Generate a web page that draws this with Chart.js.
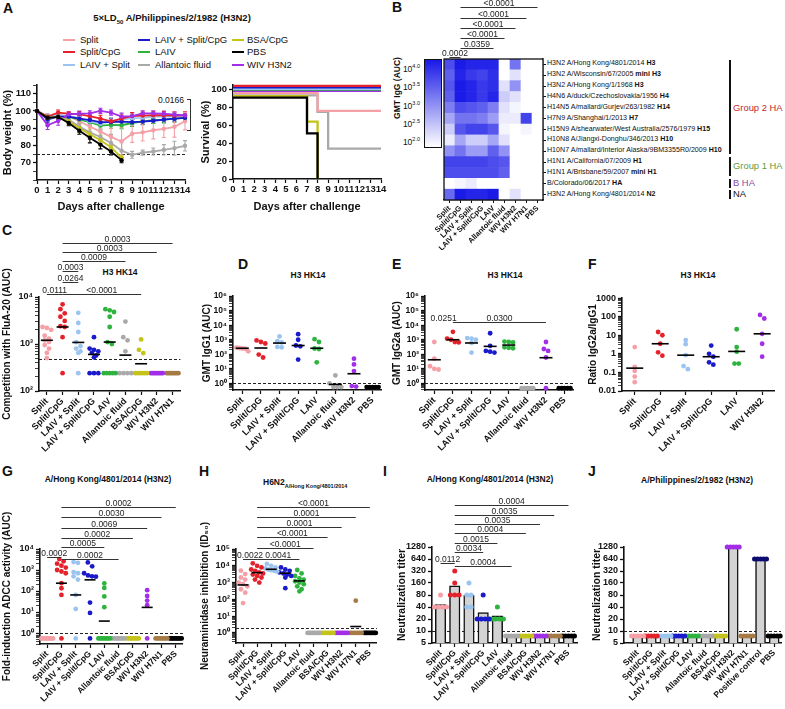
<!DOCTYPE html>
<html lang="en">
<head>
<meta charset="utf-8">
<title>Figure</title>
<script src="https://cdn.jsdelivr.net/npm/chart.js@4.4.1/dist/chart.umd.min.js"></script>
<style>
    body { margin: 0; background: #fff; }
    #fig { position: relative; width: 785px; height: 709px; overflow: hidden; background: #fff;
           font-family: "Liberation Sans", Arial, Helvetica, sans-serif; color: #111; }
    #fig canvas { position: absolute; }
    .t { position: absolute; white-space: nowrap; line-height: 1; }
    .letter { font-size: 14px; font-weight: bold; }
    .title { font-size: 8.5px; font-weight: bold; transform: translateX(-50%); }
    .legend { font-size: 9.5px; }
    .swatch { position: absolute; width: 12px; height: 2.5px; }
    .row { font-size: 7.1px; }
    .cb { font-size: 8.5px; text-align: right; width: 24px; }
    .cb sup { font-size: 5.5px; position: relative; top: -1px; vertical-align: top; }
    .group { position: absolute; left: 729px; width: 2px; background: #111; }
    .glabel { font-size: 9.4px; }
</style>
</head>
<body>
<div id="fig">
    <div class="t letter" style="left:3px;top:1px">A</div>
    <div class="t letter" style="left:392px;top:0px">B</div>
    <div class="t letter" style="left:2px;top:223px">C</div>
    <div class="t letter" style="left:238px;top:257px">D</div>
    <div class="t letter" style="left:392px;top:257px">E</div>
    <div class="t letter" style="left:588px;top:257px">F</div>
    <div class="t letter" style="left:2px;top:464px">G</div>
    <div class="t letter" style="left:199px;top:464px">H</div>
    <div class="t letter" style="left:383px;top:464px">I</div>
    <div class="t letter" style="left:588px;top:464px">J</div>

    <div class="t title" style="left:172px;top:13px;font-size:9.5px">5×LD<span style="font-size:6px;position:relative;top:3px">50</span> A/Philippines/2/1982 (H3N2)</div>
    <div class="t title" style="left:120px;top:268px">H3 HK14</div>
    <div class="t title" style="left:308px;top:271px">H3 HK14</div>
    <div class="t title" style="left:505px;top:271px">H3 HK14</div>
    <div class="t title" style="left:698px;top:271px">H3 HK14</div>
    <div class="t title" style="left:108px;top:475px">A/Hong Kong/4801/2014 (H3N2)</div>
    <div class="t" style="left:263px;top:478px;font-size:8.5px;font-weight:bold">H6N2<span style="font-size:5.5px;position:relative;top:3px">A/Hong Kong/4801/2014</span></div>
    <div class="t title" style="left:490px;top:475px">A/Hong Kong/4801/2014 (H3N2)</div>
    <div class="t title" style="left:697px;top:476px">A/Philippines/2/1982 (H3N2)</div>

    <div class="t" style="left:158px;top:96px;font-size:8.5px">0.0166</div>
    <div style="position:absolute;left:187px;top:99px;width:3px;height:30px;border-top:1px solid #333;border-right:1px solid #333;border-bottom:1px solid #333"></div>

    <div class="t" style="left:397px;top:88px;font-size:8.5px;font-weight:bold;transform:translate(-50%,-50%) rotate(-90deg)">GMT IgG (AUC)</div>
    <div id="colorbar" style="position:absolute;left:424px;top:59px;width:16px;height:87px;border:1px solid #111"></div>
    <div class="t cb" style="left:396px;top:65px">10<sup>4.0</sup></div>
    <div class="t cb" style="left:396px;top:83px">10<sup>3.5</sup></div>
    <div class="t cb" style="left:396px;top:102px">10<sup>3.0</sup></div>
    <div class="t cb" style="left:396px;top:120px">10<sup>2.5</sup></div>
    <div class="t cb" style="left:396px;top:138px">10<sup>2.0</sup></div>

    <div class="group" style="top:60px;height:94px"></div>
    <div class="group" style="top:157px;height:19px"></div>
    <div class="group" style="top:179px;height:9px"></div>
    <div class="group" style="top:190px;height:9px"></div>
    <div class="t glabel" style="left:733px;top:103px;color:#c0282d">Group 2 HA</div>
    <div class="t glabel" style="left:733px;top:161px;color:#5f9a3c">Group 1 HA</div>
    <div class="t glabel" style="left:733px;top:178px;color:#8a4ba6">B HA</div>
    <div class="t glabel" style="left:733px;top:189px;color:#111">NA</div>
</div>
<script>
// ---------- panel A: body weight (% of day 0), mean and SD ----------
const days = [0, 1, 2, 3, 4, 5, 6, 7, 8, 9, 10, 11, 12, 13, 14];
const weightSplit = [100, 96, 98, 97, 94, 91, 88, 85, 82.3, 86.8, 87.6, 88.8, 89.6, 90.8, 94];
const weightSplitCpG = [100, 96.7, 99, 98.4, 98, 97, 95.5, 94, 95.6, 97, 97.3, 97.5, 97.5, 97.3, 97.5];
const weightLaivSplit = [100, 96.7, 97.5, 97, 96, 94, 92.6, 94, 95, 95.8, 96, 96.7, 96.7, 96.7, 97];
const weightLaivSplitCpG = [100, 95, 96.7, 96.7, 95.5, 94.7, 93.5, 93.5, 93.8, 93.5, 93.8, 94.3, 95, 95.5, 96];
const weightLaiv = [100, 96, 97, 96.7, 95, 93.5, 91.5, 91.9, 91.7, 93, 94, 94.7, 95, 95.5, 96];
const weightAllantoic = [100, 95.4, 97.5, 95, 91, 87.6, 84.9, 81.4, 77, 74.6, 75.9, 76.5, 77.5, 78.4, 79.8];
const weightBsaCpG = [100, 96, 96.5, 94, 90, 86.5, 83, 79, 73];
const weightPbs = [100, 96, 96.5, 93, 88.5, 84.5, 80.5, 76.5, 71.5];
const weightWivH3N2 = [100, 91.7, 94.2, 98, 98.4, 98.6, 100, 99, 96.7, 97, 98.6, 98.6, 98.4, 97.9, 97.5];

const sdSplit = [0, 1.5, 1.5, 1.5, 2, 3, 4, 5, 8, 5, 5, 5, 5, 6, 5];
const sdSplitCpG = [0, 1.5, 1.5, 1, 1.5, 1.5, 2, 2, 2, 2, 2, 2, 2, 2, 2];
const sdLaivSplit = [0, 1.5, 1.5, 1.5, 1.5, 2, 2, 2, 2, 2, 2, 2, 2, 2, 2];
const sdLaivSplitCpG = [0, 1.5, 1.5, 1.5, 1.5, 2, 2, 2, 2, 1.5, 1.5, 1.5, 1.5, 1.5, 1.5];
const sdLaiv = [0, 1.5, 1.5, 1.5, 2, 2, 2, 2, 2, 2, 2, 2, 2, 2, 2];
const sdAllantoic = [0, 1.5, 1.5, 2, 3, 4, 4, 5, 6, 2, 1.5, 2, 3, 4, 3];
const sdBsaCpG = [0, 1.5, 1.5, 2, 2.5, 3, 3, 2.5, 1.5];
const sdPbs = [0, 1, 1, 1.5, 2, 3, 2.5, 2, 1.5];
const sdWivH3N2 = [0, 2.5, 2.5, 1.5, 1.5, 1.5, 1.5, 1.5, 2, 2, 1.5, 1.5, 1.5, 1.5, 1.5];

const weightTickValues = [60, 65, 70, 75, 80, 85, 90, 95, 100, 105, 110, 115];
const weightTickLabels = [70, 80, 90, 100, 110];

// ---------- panel A: survival (%), curves as drawn (offset in the figure) ----------
const survSplitCpG = [104, 104, 104, 104, 104, 104, 104, 104, 104, 104, 104, 104, 104, 104, 104];
const survLaivSplitCpG = [102.3, 102.3, 102.3, 102.3, 102.3, 102.3, 102.3, 102.3, 102.3, 102.3, 102.3, 102.3, 102.3, 102.3, 102.3];
const survLaivSplit = [100.8, 100.8, 100.8, 100.8, 100.8, 100.8, 100.8, 100.8, 100.8, 100.8, 100.8, 100.8, 100.8, 100.8, 100.8];
const survLaiv = [100, 100, 100, 100, 100, 100, 100, 100, 100, 100, 100, 100, 100, 100, 100];
const survWivH3N2 = [98.5, 98.5, 98.5, 98.5, 98.5, 98.5, 98.5, 98.5, 98.5, 98.5, 98.5, 98.5, 98.5, 98.5, 98.5];
const survSplit = [96, 96, 96, 96, 96, 96, 96, 96, 76, 76, 76, 76, 76, 76, 76];
const survAllantoic = [93.5, 93.5, 93.5, 93.5, 93.5, 93.5, 93.5, 93.5, 75, 34, 34, 34, 34, 34, 34];
const survPbs = [91, 91, 91, 91, 91, 91, 91, 51, 0];
const survBsaCpG = [92.5, 92.5, 92.5, 92.5, 92.5, 92.5, 92.5, 64, 0];
const survivalTickLabels = [0, 20, 40, 60, 80, 100];

// ---------- panel B: heatmap, log10 GMT IgG (AUC) ----------
const hmColumns = ["Split", "Split/CpG", "LAIV + Split", "LAIV + Split/CpG", "LAIV", "Allantoic fluid", "WIV H3N2", "WIV H7N1", "PBS"];
const hmStrains = ["H3N2 A/Hong Kong/4801/2014", "H3N2 A/Wisconsin/67/2005", "H3N2 A/Hong Kong/1/1968",
    "H4N6 A/duck/Czechoslovakia/1956", "H14N5 A/mallard/Gurjev/263/1982", "H7N9 A/Shanghai/1/2013",
    "H15N9 A/shearwater/West Australia/2576/1979", "H10N8 A/Jiangxi-Donghu/346/2013",
    "H10N7 A/mallard/Interior Alaska/9BM3355R0/2009", "H1N1 A/California/07/2009", "H1N1 A/Brisbane/59/2007",
    "B/Colorado/06/2017", "H3N2 A/Hong Kong/4801/2014"];
const hmSubtypes = ["H3", "mini H3", "H3", "H4", "H14", "H7", "H15", "H10", "H10", "H1", "mini H1", "HA", "N2"];
const hmH3HK2014 = [3.8, 4.3, 4.2, 4.2, 4.2, 2.0, 3.4, 2.0, 2.0];
const hmH3Wis2005 = [3.6, 4.2, 4.0, 3.9, 4.1, 2.0, 2.3, 2.0, 2.0];
const hmH3HK1968 = [3.7, 4.3, 4.2, 4.0, 4.1, 2.3, 3.1, 2.0, 2.0];
const hmH4 = [3.6, 4.3, 4.2, 4.0, 4.2, 2.5, 2.3, 2.0, 2.0];
const hmH14 = [3.3, 3.8, 3.7, 3.6, 3.3, 2.3, 2.1, 2.0, 2.0];
const hmH7 = [2.9, 3.4, 3.4, 3.3, 3.0, 2.2, 2.2, 3.9, 2.0];
const hmH15 = [2.5, 3.7, 3.9, 3.9, 3.7, 2.1, 2.0, 2.1, 2.0];
const hmH10N8 = [2.2, 2.9, 2.5, 2.5, 2.9, 2.3, 2.0, 2.0, 2.0];
const hmH10N7 = [3.1, 3.4, 3.0, 3.0, 3.6, 3.1, 2.0, 2.0, 2.0];
const hmH1Cal = [3.9, 3.9, 3.9, 3.9, 3.8, 3.7, 2.0, 2.0, 2.0];
const hmH1Bris = [3.8, 3.8, 3.8, 3.8, 3.8, 3.6, 2.0, 2.0, 2.0];
const hmBCol = [2.0, 2.1, 2.2, 2.0, 2.0, 2.0, 2.0, 2.0, 2.0];
const hmN2 = [3.5, 4.3, 4.2, 4.2, 4.3, 2.0, 2.3, 2.0, 2.0];
const hmRows = [hmH3HK2014, hmH3Wis2005, hmH3HK1968, hmH4, hmH14, hmH7, hmH15, hmH10N8, hmH10N7, hmH1Cal, hmH1Bris, hmBCol, hmN2];

// ---------- panel C: competition with FluA-20 (AUC) ----------
const compLabels = ["Split", "Split/CpG", "LAIV + Split", "LAIV + Split/CpG", "LAIV", "Allantoic fluid", "BSA/CpG", "WIV H3N2", "WIV H7N1"];
const compSplit = [2300, 2200, 2000, 1500, 1300, 1200, 1100, 950, 800, 650, 500];
const compSplitCpG = [7000, 5500, 4500, 3800, 3100, 2400, 2300, 1400, 240];
const compLaivSplit = [4600, 2800, 1800, 1100, 900, 800, 700, 650, 240];
const compLaivSplitCpG = [1400, 800, 750, 700, 650, 570, 520, 240, 240, 240];
const compLaiv = [5500, 5200, 4800, 3800, 2300, 1100, 1000, 240, 240, 240, 240, 240];
const compAllantoic = [3000, 1400, 1200, 700, 240, 240, 240, 240];
const compBsaCpG = [1250, 750, 640, 240, 240, 240, 240, 240, 240];
const compWivH3N2 = [240, 240, 240, 240, 240, 240, 240, 240];
const compWivH7N1 = [240, 240, 240, 240, 240, 240, 240, 240];
const compMedians = [1200, 2300, 1080, 600, 1100, 580, 380, null, null];

// ---------- panels D and E: GMT IgG1 / IgG2a (AUC) ----------
const igLabels = ["Split", "Split/CpG", "LAIV + Split", "LAIV + Split/CpG", "LAIV", "Allantoic fluid", "WIV H3N2", "PBS"];
const igg1Split = [290, 270, 250, 240, 160];
const igg1SplitCpG = [900, 700, 550, 95, 60];
const igg1LaivSplit = [1700, 800, 650, 320, 300];
const igg1LaivSplitCpG = [2400, 1000, 400, 350, 43];
const igg1Laiv = [1100, 700, 250, 230, 28];
const igg1Allantoic = [3.5, 1.0, 0.56, 0.56, 0.56];
const igg1WivH3N2 = [50, 20, 7, 0.65, 0.6];
const igg1Pbs = [0.56, 0.56, 0.56, 0.56, 0.56];
const igg1Medians = [260, 270, 590, 400, 260, 0.85, 4.6, null];

const igg2aSplit = [700, 50, 15, 10, 9];
const igg2aSplitCpG = [3500, 1200, 1000, 700, 650];
const igg2aLaivSplit = [1300, 1200, 1000, 600, 130];
const igg2aLaivSplitCpG = [2800, 380, 170, 150, 130];
const igg2aLaiv = [750, 700, 650, 300, 280, 260];
const igg2aAllantoic = [0.46, 0.46, 0.46, 0.46, 0.46];
const igg2aWivH3N2 = [700, 230, 170, 60, 0.46];
const igg2aPbs = [0.46, 0.46, 0.46, 0.46, 0.46];
const igg2aMedians = [42, 1000, 600, 350, 430, null, 58, null];

// ---------- panel F: ratio IgG2a/IgG1 ----------
const ratioLabels = ["Split", "Split/CpG", "LAIV + Split", "LAIV + Split/CpG", "LAIV", "WIV H3N2"];
const ratioSplit = [2.3, 0.2, 0.12, 0.06, 0.03];
const ratioSplitCpG = [15, 10, 3.5, 1.2, 0.8];
const ratioLaivSplit = [5.5, 3.3, 0.85, 0.22, 0.15];
const ratioLaivSplitCpG = [2.8, 1.0, 0.7, 0.35, 0.26];
const ratioLaiv = [21, 2.3, 1.3, 0.3, 0.3];
const ratioWivH3N2 = [125, 80, 12, 3.5, 0.7];
const ratioMedians = [0.17, 3.5, 0.85, 0.7, 1.35, 12];

// ---------- panel G: ADCC fold induction (AUC) ----------
const adccLabels = ["Split", "Split/CpG", "LAIV + Split", "LAIV + Split/CpG", "LAIV", "Allantoic fluid", "BSA/CpG", "WIV H3N2", "WIV H7N1", "PBS"];
const adccSplit = [0.55, 0.55, 0.55, 0.55, 0.55, 0.55, 0.55, 0.55, 0.55, 0.55];
const adccSplitCpG = [3300, 2600, 2000, 1600, 1300, 1000, 850, 700, 235, 135, 65, 0.55];
const adccLaivSplit = [2400, 2200, 800, 700, 500, 350, 65, 14, 0.55];
const adccLaivSplitCpG = [2300, 1500, 700, 550, 500, 480, 28, 9, 0.55];
const adccLaiv = [230, 140, 55, 17, 0.55, 0.55, 0.55, 0.55, 0.55, 0.55, 0.55, 0.55];
const adccAllantoic = [0.55, 0.55, 0.55, 0.55, 0.55, 0.55, 0.55, 0.55];
const adccBsaCpG = [0.55, 0.55, 0.55, 0.55, 0.55, 0.55, 0.55, 0.55];
const adccWivH3N2 = [110, 58, 35, 21, 0.55];
const adccWivH7N1 = [0.55, 0.55, 0.55, 0.55, 0.55, 0.55, 0.55, 0.55];
const adccPbs = [0.55, 0.55, 0.55, 0.55, 0.55, 0.55, 0.55, 0.55, 0.55, 0.55];
const adccMedians = [null, 235, 65, 340, 3.7, null, null, 16.6, null, null];

// ---------- panel H: neuraminidase inhibition (ID50) ----------
const niSplit = [5100, 3200, 2000, 1500, 1000, 800, 600, 400, 250, 60];
const niSplitCpG = [14000, 10000, 8000, 6000, 5000, 4000, 3500, 3000, 2500, 2000, 1500, 1000];
const niLaivSplit = [13000, 10000, 8000, 7000, 6000, 5500, 5000, 4500];
const niLaivSplitCpG = [8000, 6000, 5000, 4000, 3500, 3000, 2500, 2000, 460];
const niLaiv = [5600, 3500, 2500, 1800, 1500, 1200, 1000, 800, 600, 400, 300];
const niAllantoic = [1, 1, 1, 1, 1, 1, 1, 1];
const niBsaCpG = [1, 1, 1, 1, 1, 1, 1, 1];
const niWivH3N2 = [1, 1, 1, 1, 1, 1, 1, 1];
const niWivH7N1 = [83, 1, 1, 1, 1, 1, 1, 1];
const niPbs = [1, 1, 1, 1, 1, 1, 1, 1, 1, 1];
const niMedians = [720, 3900, 6200, 3600, 1250, null, null, null, 2.4, null];

// ---------- panels I and J: neutralization titer ----------
const neutTicks = [5, 10, 20, 40, 80, 160, 320, 640, 1280];
const neutBelowLimit = [7.5, 7.5, 7.5, 7.5, 7.5];
const neutHkBars = [46, 135, 78, 29, 24, 8, 8, 8, 8, 8];
const neutHkSplit = [80, 40, 40, 40, 40];
const neutHkSplitCpG = [320, 160, 80, 80, 80];
const neutHkLaivSplit = [160, 80, 80, 40, 40];
const neutHkLaivSplitCpG = [80, 20, 20, 20, 20];
const neutHkLaiv = [40, 20, 20, 20, 20];

const neutPhLabels = ["Split", "Split/CpG", "LAIV + Split", "LAIV + Split/CpG", "LAIV", "Allantoic fluid", "BSA/CpG", "WIV H3N2", "WIV H7N1", "Positive control", "PBS"];
const neutPhBars = [8, 8, 8, 8, 8, 8, 8, 1280, 8, 640, 8];
const neutPhWivH3N2 = [1280, 1280, 1280, 1280, 1280];
const neutPhPositive = [640, 640, 640, 640, 640];

const groupColor = {
    "Split": "#f4a0a6",
    "Split/CpG": "#e4222b",
    "LAIV + Split": "#9bc4ef",
    "LAIV + Split/CpG": "#1a1acb",
    "LAIV": "#2db33e",
    "Allantoic fluid": "#a9a9a9",
    "BSA/CpG": "#c3c31a",
    "WIV H3N2": "#a22ee8",
    "WIV H7N1": "#a57a45",
    "Positive control": "#0b0b72",
    "PBS": "#000000"
};

const SUP = { "-": "⁻", "0": "⁰", "1": "¹", "2": "²", "3": "³", "4": "⁴", "5": "⁵", "6": "⁶" };

document.addEventListener("DOMContentLoaded", function() {
    Chart.defaults.font.family = '"Liberation Sans", Arial, Helvetica, sans-serif';
    Chart.defaults.color = "#111";
    buildLegend();
    buildHeatmapLabels();
    createWeightChart();
    createSurvivalChart();
    createHeatmap();
    createDotPanels();
    createBarPanels();
});

function makeCanvas(box) {
    const c = document.createElement("canvas");
    c.width = box.w;
    c.height = box.h;
    c.style.left = box.x + "px";
    c.style.top = box.y + "px";
    c.style.width = box.w + "px";
    c.style.height = box.h + "px";
    document.getElementById("fig").appendChild(c);
    return c;
}

function addText(html, x, y, cls, style) {
    const d = document.createElement("div");
    d.className = "t " + (cls || "");
    d.style.left = x + "px";
    d.style.top = y + "px";
    if (style) d.style.cssText += style;
    d.innerHTML = html;
    document.getElementById("fig").appendChild(d);
}

function baseOptions(box, area) {
    return {
        responsive: false,
        animation: false,
        devicePixelRatio: 1,
        events: [],
        layout: { padding: { left: 0, top: area.t - box.y, right: box.x + box.w - area.r, bottom: 0 } },
        plugins: { legend: { display: false }, tooltip: { enabled: false } }
    };
}

function bottomAxis(box, area, o) {
    return {
        type: "linear", min: o.min, max: o.max, offset: false,
        afterBuildTicks: s => { s.ticks = o.ticks.map(v => ({ value: v })); },
        afterFit: s => { s.height = box.y + box.h - area.b; s.paddingLeft = 0; s.paddingRight = 0; },
        ticks: {
            autoSkip: false, minRotation: o.rotate || 0, maxRotation: o.rotate || 0,
            callback: (v, i) => (o.labels ? o.labels[i] : String(v)),
            font: { size: o.size, weight: "bold" }, color: "#111", padding: 1
        },
        grid: { drawOnChartArea: false, offset: false, tickLength: 4, tickWidth: 1.2, color: "#111" },
        border: { color: "#111", width: 1.6 },
        title: { display: !!o.title, text: o.title || "", font: { size: 11, weight: "bold" }, color: "#111", padding: { top: 1, bottom: 1 } }
    };
}

function leftAxis(box, area, o) {
    return {
        type: o.type || "linear", min: o.min, max: o.max,
        afterBuildTicks: s => { s.ticks = o.ticks.map(t => ({ value: t.value, major: t.major })); },
        afterFit: s => { s.width = area.l - box.x; s.paddingTop = 0; s.paddingBottom = 0; },
        ticks: {
            autoSkip: false,
            callback: (v, i, ticks) => (ticks[i].major ? o.format(ticks[i].value) : ""),
            font: { size: o.size, weight: "bold" }, color: "#111", padding: 2
        },
        grid: { drawOnChartArea: false, tickLength: 4, color: "#111", tickWidth: c => (c.tick && c.tick.major ? 1.3 : 0.8) },
        border: { color: "#111", width: 1.6 },
        title: { display: true, text: o.title, font: { size: o.titleSize || 10, weight: "bold" }, color: "#111", padding: { top: 1, bottom: 1 } }
    };
}

// majors at powers of ten, minors at 2..9 x 10^n
function logTicks(lo, hi) {
    const out = [];
    for (let e = Math.floor(Math.log10(lo)); e <= Math.ceil(Math.log10(hi)); e++) {
        for (let k = 1; k <= 9; k++) {
            const v = k * Math.pow(10, e);
            if (v >= lo * 0.999 && v <= hi * 1.001) out.push({ value: v, major: k === 1 });
        }
    }
    return out;
}

function powLabel(v) {
    const e = Math.round(Math.log10(v));
    return "10" + String(e).split("").map(c => SUP[c]).join("");
}

function plainLabel(v) {
    return v >= 1 ? String(Math.round(v)) : String(Number(v.toPrecision(1)));
}

// spread equal-ish values sideways like a scatter dot plot
function spread(values, index, tol, gap, maxWidth) {
    const sorted = values.slice().sort((a, b) => b - a);
    const clusters = [];
    sorted.forEach(v => {
        const last = clusters[clusters.length - 1];
        if (last && Math.abs(Math.log10(last[0]) - Math.log10(v)) <= tol) last.push(v);
        else clusters.push([v]);
    });
    const points = [];
    clusters.forEach(c => {
        const width = Math.min(gap * (c.length - 1), maxWidth);
        c.forEach((v, j) => {
            const dx = c.length > 1 ? -width / 2 + width * j / (c.length - 1) : 0;
            points.push({ x: index + dx, y: v });
        });
    });
    return points;
}

function heatColor(v) {
    const t = Math.max(0, Math.min(1, (v - 2) / 2.32));
    const r = Math.round(255 - t * (255 - 25));
    const b = Math.round(255 - t * (255 - 232));
    return "rgb(" + r + "," + r + "," + b + ")";
}

function annotations(cfg) {
    return {
        id: "annotations",
        beforeDatasetsDraw(chart) {
            const ctx = chart.ctx, area = chart.chartArea, xs = chart.scales.x, ys = chart.scales.y;
            ctx.save();
            if (cfg.lod != null) {
                const y = Math.round(ys.getPixelForValue(cfg.lod)) + 0.5;
                ctx.setLineDash([3, 2]);
                ctx.lineWidth = 1;
                ctx.strokeStyle = "#222";
                ctx.beginPath();
                ctx.moveTo(area.left, y);
                ctx.lineTo(area.right, y);
                ctx.stroke();
                ctx.setLineDash([]);
            }
            chart.data.datasets.forEach(ds => {
                if (!ds.sd) return;
                ctx.strokeStyle = ds.borderColor;
                ctx.lineWidth = 1.1;
                ds.data.forEach((p, i) => {
                    const sd = ds.sd[i];
                    if (!sd) return;
                    const x = xs.getPixelForValue(p.x);
                    const y1 = ys.getPixelForValue(p.y - sd), y2 = ys.getPixelForValue(p.y + sd);
                    ctx.beginPath();
                    ctx.moveTo(x, y1); ctx.lineTo(x, y2);
                    ctx.moveTo(x - 2, y1); ctx.lineTo(x + 2, y1);
                    ctx.moveTo(x - 2, y2); ctx.lineTo(x + 2, y2);
                    ctx.stroke();
                });
            });
            ctx.restore();
        },
        afterDatasetsDraw(chart) {
            const ctx = chart.ctx, area = chart.chartArea, xs = chart.scales.x;
            ctx.save();
            if (cfg.frame) {
                ctx.lineWidth = 1.3;
                ctx.strokeStyle = "#111";
                ctx.strokeRect(area.left, area.top, area.right - area.left, area.bottom - area.top);
            }
            ctx.font = '8.5px "Liberation Sans", Arial, sans-serif';
            ctx.fillStyle = "#222";
            ctx.textAlign = "center";
            ctx.textBaseline = "alphabetic";
            (cfg.sig || []).forEach(([a, b, label, pageY, noLine]) => {
                const x1 = xs.getPixelForValue(a), x2 = xs.getPixelForValue(b);
                const y = Math.round(pageY - cfg.top) + 0.5;
                if (!noLine) {
                    ctx.lineWidth = 1;
                    ctx.strokeStyle = "#333";
                    ctx.beginPath();
                    ctx.moveTo(x1, y);
                    ctx.lineTo(x2, y);
                    ctx.stroke();
                }
                ctx.fillText(label, (x1 + x2) / 2, y - 2);
            });
            ctx.restore();
        }
    };
}

function buildLegend() {
    const items = [
        ["Split", 63, 80, 40], ["Split/CpG", 63, 80, 52], ["LAIV + Split", 63, 80, 65],
        ["LAIV + Split/CpG", 138, 155, 40], ["LAIV", 138, 155, 52], ["Allantoic fluid", 138, 155, 65],
        ["BSA/CpG", 232, 247, 40], ["PBS", 232, 247, 52], ["WIV H3N2", 232, 247, 65]
    ];
    const fig = document.getElementById("fig");
    items.forEach(([name, lx, tx, y]) => {
        const sw = document.createElement("div");
        sw.className = "swatch";
        sw.style.left = lx + "px";
        sw.style.top = (y - 1.2) + "px";
        sw.style.background = groupColor[name];
        fig.appendChild(sw);
        addText(name, tx, y - 5, "legend");
    });
}

function buildHeatmapLabels() {
    const top = 59, rowH = 141 / hmStrains.length;
    hmStrains.forEach((s, i) => {
        addText(s + " <b>" + hmSubtypes[i] + "</b>", 547, top + (i + 0.5) * rowH - 4, "row");
    });
    document.getElementById("colorbar").style.background =
        "linear-gradient(to top, " + heatColor(2.0) + ", " + heatColor(4.32) + ")";
}

function createWeightChart() {
    const box = { x: 0, y: 75, w: 196, h: 140 };
    const area = { l: 37, t: 85, r: 185, b: 180 };
    const groups = [
        ["PBS", weightPbs, sdPbs], ["BSA/CpG", weightBsaCpG, sdBsaCpG],
        ["WIV H3N2", weightWivH3N2, sdWivH3N2], ["Split/CpG", weightSplitCpG, sdSplitCpG],
        ["LAIV + Split/CpG", weightLaivSplitCpG, sdLaivSplitCpG], ["LAIV + Split", weightLaivSplit, sdLaivSplit],
        ["LAIV", weightLaiv, sdLaiv], ["Split", weightSplit, sdSplit], ["Allantoic fluid", weightAllantoic, sdAllantoic]
    ];
    const datasets = groups.map(([name, values, sd]) => ({
        data: values.map((v, i) => ({ x: days[i], y: v })),
        sd: sd,
        borderColor: groupColor[name],
        backgroundColor: groupColor[name],
        borderWidth: 1.8, pointRadius: 2.2, pointBorderWidth: 0, clip: false
    }));
    new Chart(makeCanvas(box), {
        type: "line",
        data: { datasets },
        options: {
            ...baseOptions(box, area),
            scales: {
                x: bottomAxis(box, area, { min: 0, max: 14, ticks: days, size: 9.5, title: "Days after challenge" }),
                y: leftAxis(box, area, {
                    min: 60, max: 115, size: 9.5, title: "Body weight (%)", titleSize: 11,
                    ticks: weightTickValues.map(v => ({ value: v, major: weightTickLabels.includes(v) })),
                    format: v => String(v)
                })
            }
        },
        plugins: [annotations({ lod: 75, top: box.y })]
    });
}

function createSurvivalChart() {
    const box = { x: 198, y: 75, w: 190, h: 140 };
    const area = { l: 233, t: 85, r: 381, b: 179 };
    const groups = [
        ["Split/CpG", survSplitCpG], ["LAIV + Split/CpG", survLaivSplitCpG], ["LAIV + Split", survLaivSplit],
        ["LAIV", survLaiv], ["WIV H3N2", survWivH3N2], ["Split", survSplit], ["PBS", survPbs],
        ["BSA/CpG", survBsaCpG], ["Allantoic fluid", survAllantoic]
    ];
    const datasets = groups.map(([name, values]) => ({
        data: values.map((v, i) => ({ x: days[i], y: v })),
        borderColor: groupColor[name],
        borderWidth: 2.3, pointRadius: 0, stepped: true, clip: false
    }));
    new Chart(makeCanvas(box), {
        type: "line",
        data: { datasets },
        options: {
            ...baseOptions(box, area),
            scales: {
                x: bottomAxis(box, area, { min: 0, max: 14, ticks: days, size: 9.5, title: "Days after challenge" }),
                y: leftAxis(box, area, {
                    min: 0, max: 105, size: 9.5, title: "Survival (%)", titleSize: 11,
                    ticks: survivalTickLabels.map(v => ({ value: v, major: true })),
                    format: v => String(v)
                })
            }
        }
    });
}

function createHeatmap() {
    const box = { x: 396, y: 0, w: 154, h: 250 };
    const area = { l: 444, t: 59, r: 543, b: 200 };
    const sigB = [
        [1, 8, "<0.0001", 7.3], [1, 7, "<0.0001", 17.7], [1, 6, "<0.0001", 27.7],
        [1, 5, "<0.0001", 37.7], [1, 4, "0.0359", 47.7], [0, 1, "0.0002", 56.7]
    ];
    const rows = hmRows.slice().reverse();
    new Chart(makeCanvas(box), {
        type: "bar",
        data: {
            labels: hmColumns,
            datasets: rows.map(row => ({
                data: row.map(() => 1),
                backgroundColor: row.map(heatColor),
                borderWidth: 0, barPercentage: 1, categoryPercentage: 1
            }))
        },
        options: {
            ...baseOptions(box, area),
            layout: { padding: { left: area.l - box.x, top: area.t - box.y, right: box.x + box.w - area.r - 4, bottom: 0 } },
            scales: {
                x: {
                    stacked: true, offset: true,
                    afterFit: s => { s.height = box.y + box.h - area.b; s.paddingLeft = 0; s.paddingRight = 0; },
                    ticks: { autoSkip: false, minRotation: 45, maxRotation: 45, font: { size: 7.5, weight: "bold" }, color: "#111", padding: 1 },
                    grid: { drawOnChartArea: false, offset: false, tickLength: 3, color: "#111" },
                    border: { color: "#111", width: 1.3 }
                },
                y: { stacked: true, display: false, min: 0, max: hmRows.length },
                y2: {
                    position: "right", min: 0, max: hmRows.length,
                    afterBuildTicks: s => { s.ticks = hmRows.map((_, i) => ({ value: i + 0.5 })); },
                    afterFit: s => { s.width = 4; s.paddingTop = 0; s.paddingBottom = 0; },
                    ticks: { display: false },
                    grid: { drawOnChartArea: false, tickLength: 3, color: "#111" },
                    border: { color: "#111", width: 1.3 }
                }
            }
        },
        plugins: [annotations({ frame: true, sig: sigB, top: box.y })]
    });
}

function createDotChart(p) {
    const spacing = (p.area.r - p.area.l) / (p.xMax - p.xMin);
    const datasets = p.groups.map((values, i) => ({
        type: "scatter",
        data: spread(values, i, p.tol, 4.4 / spacing, 12 / spacing),
        backgroundColor: groupColor[p.labels[i]],
        pointRadius: p.radius || 2.4, borderWidth: 0, clip: false, order: 1
    }));
    if (p.centers) {
        datasets.push({
            type: "scatter",
            data: p.centers.map((v, i) => (v == null ? null : { x: i, y: v })).filter(d => d),
            pointStyle: "line", pointRadius: p.lineHalf || 5.5, borderColor: "#000", borderWidth: 1.6,
            clip: false, order: 0
        });
    }
    if (p.bars) {
        datasets.push({
            type: "bar",
            data: p.bars.map((v, i) => ({ x: i, y: v })),
            backgroundColor: "#d3d3d3", borderColor: "#111", borderWidth: 1.5,
            barThickness: p.barWidth, order: 2
        });
    }
    return new Chart(makeCanvas(p.box), {
        type: p.bars ? "bar" : "scatter",
        data: { datasets },
        options: {
            ...baseOptions(p.box, p.area),
            scales: {
                x: bottomAxis(p.box, p.area, {
                    min: p.xMin, max: p.xMax, ticks: p.labels.map((_, i) => i),
                    labels: p.labels, rotate: 45, size: p.xSize || 9
                }),
                y: leftAxis(p.box, p.area, {
                    type: "logarithmic", min: p.yMin, max: p.yMax, ticks: p.yTicks,
                    format: p.yFormat, size: p.ySize || 9, title: p.yTitle, titleSize: p.yTitleSize
                })
            }
        },
        plugins: [annotations({ lod: p.lod, sig: p.sig, top: p.box.y })]
    });
}

function createDotPanels() {
    createDotChart({
        box: { x: 0, y: 228, w: 188, h: 242 }, area: { l: 39, t: 297, r: 183, b: 391 },
        labels: compLabels,
        groups: [compSplit, compSplitCpG, compLaivSplit, compLaivSplitCpG, compLaiv, compAllantoic, compBsaCpG, compWivH3N2, compWivH7N1],
        centers: compMedians, lineHalf: 6,
        xMin: -0.5, xMax: 8.5, yMin: 100, yMax: 10000, yTicks: logTicks(100, 10000), yFormat: powLabel,
        yTitle: "Competition with FluA-20 (AUC)", lod: 470, tol: 0.09,
        sig: [[1, 8, "0.0003", 243], [1, 7, "0.0003", 252], [1, 5, "0.0009", 261], [1, 2, "0.0003", 271],
              [1, 2, "0.0264", 282], [0, 1, "0.0111", 294], [1, 6, "<0.0001", 294]]
    });
    createDotChart({
        box: { x: 200, y: 288, w: 190, h: 182 }, area: { l: 233, t: 296, r: 383, b: 390 },
        labels: igLabels,
        groups: [igg1Split, igg1SplitCpG, igg1LaivSplit, igg1LaivSplitCpG, igg1Laiv, igg1Allantoic, igg1WivH3N2, igg1Pbs],
        centers: igg1Medians, lineHalf: 6.5,
        xMin: -0.5, xMax: 7.5, yMin: 0.35, yMax: 1e6, yTicks: logTicks(0.35, 1e6), yFormat: powLabel, ySize: 8.5,
        yTitle: "GMT IgG1 (AUC)", lod: 1, tol: 0.3
    });
    createDotChart({
        box: { x: 390, y: 288, w: 192, h: 182 }, area: { l: 425, t: 296, r: 578, b: 390 },
        labels: igLabels,
        groups: [igg2aSplit, igg2aSplitCpG, igg2aLaivSplit, igg2aLaivSplitCpG, igg2aLaiv, igg2aAllantoic, igg2aWivH3N2, igg2aPbs],
        centers: igg2aMedians, lineHalf: 6.5,
        xMin: -0.5, xMax: 7.5, yMin: 0.35, yMax: 1e6, yTicks: logTicks(0.35, 1e6), yFormat: powLabel, ySize: 8.5,
        yTitle: "GMT IgG2a (AUC)", lod: 1, tol: 0.3,
        sig: [[0, 1, "0.0251", 322, true], [1, 6, "0.0300", 322]]
    });
    createDotChart({
        box: { x: 586, y: 288, w: 199, h: 182 }, area: { l: 622, t: 297, r: 780, b: 391 },
        labels: ratioLabels,
        groups: [ratioSplit, ratioSplitCpG, ratioLaivSplit, ratioLaivSplitCpG, ratioLaiv, ratioWivH3N2],
        centers: ratioMedians, lineHalf: 8.5,
        xMin: -0.5, xMax: 5.5, yMin: 0.01, yMax: 1000, yTicks: logTicks(0.01, 1000), yFormat: plainLabel,
        yTitle: "Ratio IgG2a/IgG1", tol: 0.22
    });
    createDotChart({
        box: { x: 0, y: 495, w: 190, h: 214 }, area: { l: 40, t: 549, r: 185, b: 644 },
        labels: adccLabels,
        groups: [adccSplit, adccSplitCpG, adccLaivSplit, adccLaivSplitCpG, adccLaiv, adccAllantoic, adccBsaCpG, adccWivH3N2, adccWivH7N1, adccPbs],
        centers: adccMedians, lineHalf: 5.5, xSize: 8.5,
        xMin: -0.5, xMax: 9.5, yMin: 0.3, yMax: 1e4, yTicks: logTicks(0.3, 1e4), yFormat: powLabel,
        yTitle: "Fold-induction ADCC activity (AUC)", lod: 1, tol: 0.2,
        sig: [[1, 9, "0.0002", 507], [1, 8, "0.0030", 517], [1, 7, "0.0069", 528], [1, 6, "0.0002", 538],
              [1, 4, "0.0005", 547], [0, 1, "0.0002", 557], [1, 5, "0.0002", 559]]
    });
    createDotChart({
        box: { x: 198, y: 495, w: 186, h: 214 }, area: { l: 236, t: 549, r: 379, b: 643 },
        labels: adccLabels,
        groups: [niSplit, niSplitCpG, niLaivSplit, niLaivSplitCpG, niLaiv, niAllantoic, niBsaCpG, niWivH3N2, niWivH7N1, niPbs],
        centers: niMedians, lineHalf: 5.5, xSize: 8.5,
        xMin: -0.5, xMax: 9.5, yMin: 0.25, yMax: 1e5, yTicks: logTicks(0.25, 1e5), yFormat: powLabel,
        yTitle: "Neuraminidase inhibition (ID₅₀)", lod: 2, tol: 0.26,
        sig: [[1, 9, "<0.0001", 507], [1, 8, "0.0001", 517], [1, 7, "0.0001", 527], [1, 6, "<0.0001", 537],
              [1, 5, "<0.0001", 548], [0, 1, "0.0022", 559], [1, 4, "0.0041", 559]]
    });
}

function createBarPanels() {
    const neutTickObjects = neutTicks.map(v => ({ value: v, major: true }));
    createDotChart({
        box: { x: 395, y: 495, w: 187, h: 214 }, area: { l: 432, t: 547, r: 577, b: 643 },
        labels: adccLabels,
        groups: [neutHkSplit, neutHkSplitCpG, neutHkLaivSplit, neutHkLaivSplitCpG, neutHkLaiv,
                 neutBelowLimit, neutBelowLimit, neutBelowLimit, neutBelowLimit, neutBelowLimit],
        bars: neutHkBars, barWidth: 10.5, radius: 2.5, xSize: 8.5,
        xMin: -0.6, xMax: 9.6, yMin: 5, yMax: 1280, yTicks: neutTickObjects, yFormat: v => String(v),
        yTitle: "Neutralization titer", yTitleSize: 10.5, lod: 10, tol: 0.1,
        sig: [[1, 9, "0.0004", 505], [1, 8, "0.0035", 515], [1, 7, "0.0035", 524], [1, 6, "0.0004", 533],
              [1, 4, "0.0015", 543], [1, 3, "0.0034", 552], [0, 1, "0.0112", 563], [1, 5, "0.0004", 566]]
    });
    createDotChart({
        box: { x: 590, y: 495, w: 195, h: 214 }, area: { l: 624, t: 547, r: 781, b: 643 },
        labels: neutPhLabels,
        groups: [neutBelowLimit, neutBelowLimit, neutBelowLimit, neutBelowLimit, neutBelowLimit, neutBelowLimit,
                 neutBelowLimit, neutPhWivH3N2, neutBelowLimit, neutPhPositive, neutBelowLimit],
        bars: neutPhBars, barWidth: 10, radius: 2.5, xSize: 8.5,
        xMin: -1, xMax: 10.5, yMin: 5, yMax: 1280, yTicks: neutTickObjects, yFormat: v => String(v),
        yTitle: "Neutralization titer", yTitleSize: 10.5, lod: 10, tol: 0.1
    });
}
</script>
</body>
</html>
